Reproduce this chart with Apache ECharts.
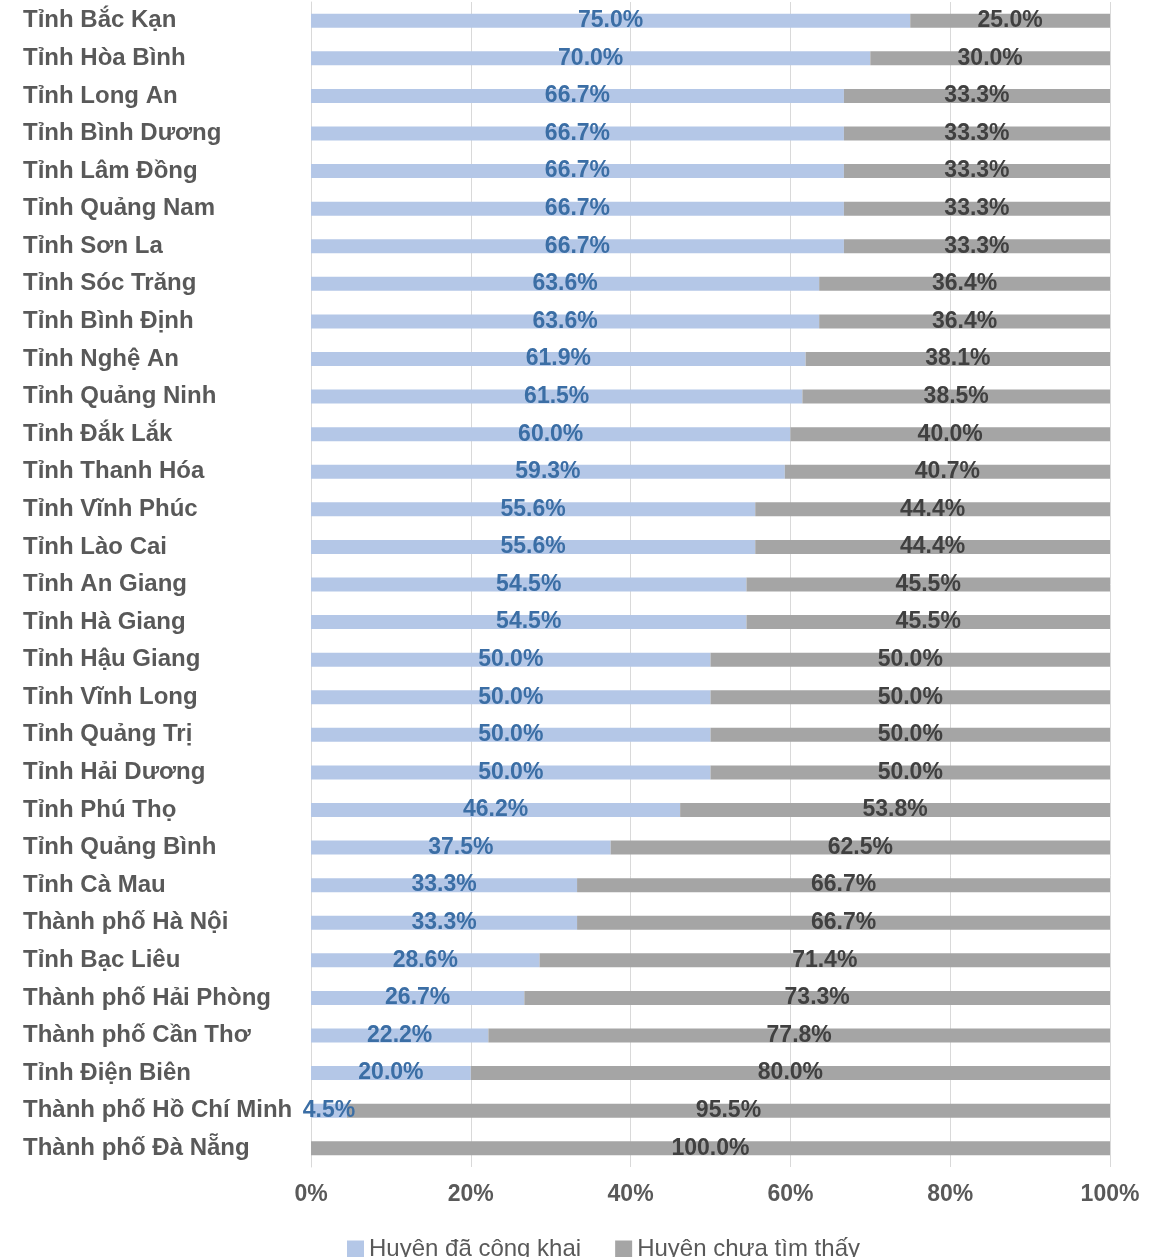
<!DOCTYPE html>
<html>
<head>
<meta charset="utf-8">
<title>Huyện công khai</title>
<script src="https://cdn.jsdelivr.net/npm/echarts@6/dist/echarts.min.js"></script>
<style>
  html, body { margin: 0; padding: 0; background: #fff; }
  #chart { width: 1158px; height: 1257px; }
</style>
</head>
<body>
<div id="chart"></div>
<script>
// danh sách tỉnh / thành phố (từ trên xuống)
var provinces = [
  'Tỉnh Bắc Kạn', 'Tỉnh Hòa Bình', 'Tỉnh Long An', 'Tỉnh Bình Dương', 'Tỉnh Lâm Đồng',
  'Tỉnh Quảng Nam', 'Tỉnh Sơn La', 'Tỉnh Sóc Trăng', 'Tỉnh Bình Định', 'Tỉnh Nghệ An',
  'Tỉnh Quảng Ninh', 'Tỉnh Đắk Lắk', 'Tỉnh Thanh Hóa', 'Tỉnh Vĩnh Phúc', 'Tỉnh Lào Cai',
  'Tỉnh An Giang', 'Tỉnh Hà Giang', 'Tỉnh Hậu Giang', 'Tỉnh Vĩnh Long', 'Tỉnh Quảng Trị',
  'Tỉnh Hải Dương', 'Tỉnh Phú Thọ', 'Tỉnh Quảng Bình', 'Tỉnh Cà Mau', 'Thành phố Hà Nội',
  'Tỉnh Bạc Liêu', 'Thành phố Hải Phòng', 'Thành phố Cần Thơ', 'Tỉnh Điện Biên',
  'Thành phố Hồ Chí Minh', 'Thành phố Đà Nẵng'
];
var published = [
  75.0, 70.0, 66.7, 66.7, 66.7, 66.7, 66.7, 63.6, 63.6, 61.9,
  61.5, 60.0, 59.3, 55.6, 55.6, 54.5, 54.5, 50.0, 50.0, 50.0,
  50.0, 46.2, 37.5, 33.3, 33.3, 28.6, 26.7, 22.2, 20.0, 4.5, 0
];
var notFound = [
  25.0, 30.0, 33.3, 33.3, 33.3, 33.3, 33.3, 36.4, 36.4, 38.1,
  38.5, 40.0, 40.7, 44.4, 44.4, 45.5, 45.5, 50.0, 50.0, 50.0,
  50.0, 53.8, 62.5, 66.7, 66.7, 71.4, 73.3, 77.8, 80.0, 95.5, 100.0
];
var seriesNames = ['Huyên đã công khai', 'Huyên chưa tìm thấy'];

var font = '"Liberation Sans", Arial, sans-serif';

function pct(p) {
  return p.value ? p.value.toFixed(1) + '%' : '';
}

var chart = echarts.init(document.getElementById('chart'));
chart.setOption({
  animation: false,
  textStyle: { fontFamily: font },
  grid: { left: 311, right: 48, top: 2, bottom: 90 },
  legend: {
    top: 1232,
    left: 342,
    itemWidth: 17,
    itemHeight: 17,
    itemGap: 34,
    icon: 'rect',
    textStyle: { fontSize: 24, color: '#595959', fontFamily: font }
  },
  xAxis: {
    type: 'value',
    min: 0,
    max: 100,
    interval: 20,
    axisLine: { show: false },
    axisTick: { show: false },
    splitLine: { lineStyle: { color: '#d9d9d9', width: 1 } },
    axisLabel: {
      formatter: '{value}%',
      fontSize: 23,
      fontWeight: 'bold',
      color: '#595959',
      margin: 16
    }
  },
  yAxis: {
    type: 'category',
    inverse: true,
    data: provinces,
    axisLine: { lineStyle: { color: '#d9d9d9' } },
    axisTick: { show: false },
    axisLabel: {
      align: 'left',
      margin: 288,
      fontSize: 24,
      fontWeight: 'bold',
      color: '#595959'
    }
  },
  series: [
    {
      name: seriesNames[0],
      type: 'bar',
      stack: 'total',
      data: published,
      barWidth: 14,
      itemStyle: { color: '#b4c7e7' },
      label: {
        show: true,
        position: 'inside',
        formatter: pct,
        fontSize: 23,
        fontWeight: 'bold',
        color: '#3b6ea5'
      }
    },
    {
      name: seriesNames[1],
      type: 'bar',
      stack: 'total',
      data: notFound,
      barWidth: 14,
      itemStyle: { color: '#a5a5a5' },
      label: {
        show: true,
        position: 'inside',
        formatter: pct,
        fontSize: 23,
        fontWeight: 'bold',
        color: '#404040'
      }
    }
  ]
});
</script>
</body>
</html>
